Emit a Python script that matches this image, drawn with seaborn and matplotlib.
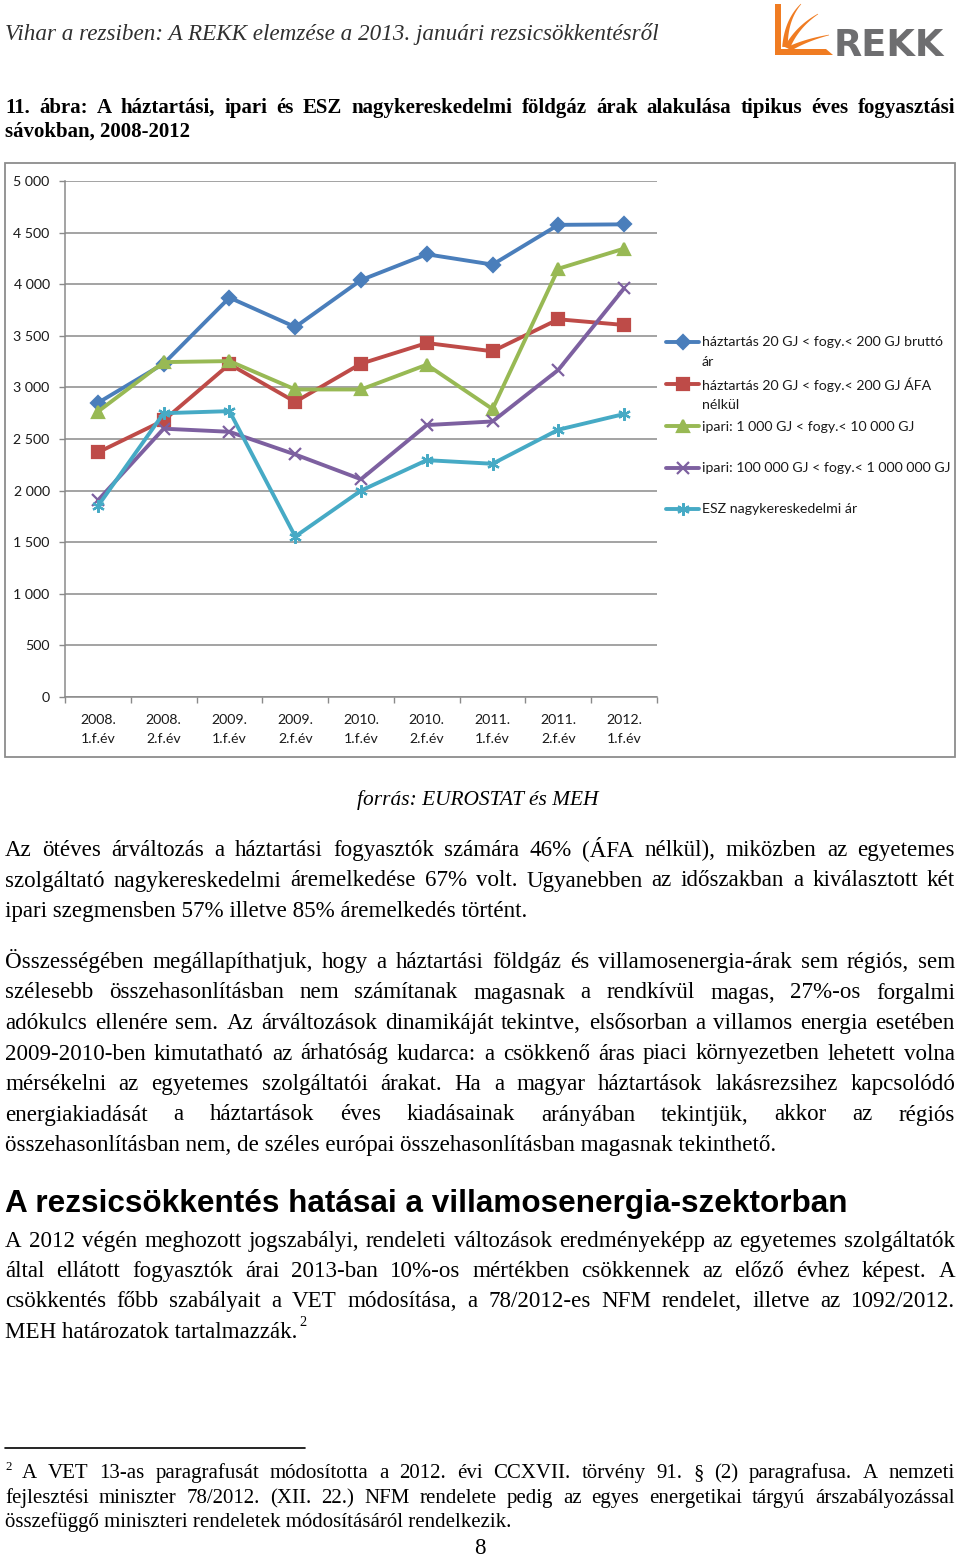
import numpy as np
import pandas as pd
import matplotlib
matplotlib.use("Agg")
import matplotlib.pyplot as plt
import seaborn as sns
from matplotlib.font_manager import FontProperties
from matplotlib.legend_handler import HandlerLine2D
from matplotlib.patches import Rectangle, Polygon
from matplotlib.lines import Line2D

# ---------------- data ----------------
categories = ["2008.\n1.f.év", "2008.\n2.f.év", "2009.\n1.f.év", "2009.\n2.f.év",
              "2010.\n1.f.év", "2010.\n2.f.év", "2011.\n1.f.év", "2011.\n2.f.év",
              "2012.\n1.f.év"]
haztartas_brutto = [2850, 3230, 3870, 3585, 4040, 4290, 4190, 4575, 4580]
haztartas_afa_nelkul = [2370, 2680, 3225, 2860, 3230, 3430, 3350, 3660, 3605]
ipari_kis = [2765, 3245, 3255, 2980, 2980, 3220, 2790, 4150, 4345]
ipari_nagy = [1905, 2600, 2570, 2350, 2110, 2635, 2670, 3170, 3960]
esz_nagyker = [1850, 2750, 2770, 1555, 2000, 2295, 2260, 2590, 2742]
series_labels = ["háztartás 20 GJ < fogy.< 200 GJ bruttó\nár",
                 "háztartás 20 GJ < fogy.< 200 GJ ÁFA\nnélkül",
                 "ipari: 1 000 GJ < fogy.< 10 000 GJ\n",
                 "ipari: 100 000 GJ < fogy.< 1 000 000 GJ\n",
                 "ESZ nagykereskedelmi ár\n"]
y_ticks = [0, 500, 1000, 1500, 2000, 2500, 3000, 3500, 4000, 4500, 5000]

# ---------------- page ----------------
W, H = 960, 1557
sns.set_theme(style="white")
plt.rcParams['font.family'] = ['Lato', 'DejaVu Sans']

fig = plt.figure(figsize=(W / 100, H / 100), dpi=100)
fig.patch.set_facecolor('white')
renderer = fig.canvas.get_renderer()


def fx(x):
    return x / W


def fy(y):
    return 1 - y / H


def tw(s, fp):
    w, h, d = renderer.get_text_width_height_descent(s, fp, ismath=False)
    return w


def fp_fit(s, target, family, style='normal', weight='normal'):
    base = 20.0
    fp = FontProperties(family=family, style=style, weight=weight, size=base)
    return FontProperties(family=family, style=style, weight=weight,
                          size=base * target / tw(s, fp))


def put(s, x, y, fp, color='black', ha='left'):
    fig.text(fx(x), fy(y), s, fontproperties=fp, va='baseline', ha=ha, color=color)


def justify(s, x0, x1, y, fp, color='black'):
    words = s.split(' ')
    widths = [tw(w, fp) for w in words]
    gap = (x1 - x0 - sum(widths)) / (len(words) - 1)
    x = x0
    for w, wd in zip(words, widths):
        put(w, x, y, fp, color)
        x += wd + gap


serif = ['Liberation Serif', 'DejaVu Serif']

# header
hdr = "Vihar a rezsiben: A REKK elemzése a 2013. januári rezsicsökkentésről"
put(hdr, 5, 40, fp_fit(hdr, 653, serif, style='italic'), color='#303030')

# logo
orange = '#F07C22'


def P(pts):
    return [(fx(x), fy(y)) for x, y in pts]


fig.add_artist(Polygon(P([(775, 4), (781, 4), (781, 49), (826, 49), (833, 55), (775, 55)]),
                       closed=True, transform=fig.transFigure, color=orange, lw=0))


def swoosh(p0, c, p2, w0):
    p0, c, p2 = map(np.array, (p0, c, p2))
    t = np.linspace(0, 1, 24)[:, None]
    pts = (1 - t) ** 2 * p0 + 2 * (1 - t) * t * c + t ** 2 * p2
    d = 2 * (1 - t) * (c - p0) + 2 * t * (p2 - c)
    n = np.column_stack([-d[:, 1], d[:, 0]])
    n /= np.linalg.norm(n, axis=1)[:, None]
    wid = (w0 * (1 - t[:, 0]) + 0.6)[:, None]
    poly = np.vstack([pts + n * wid / 2, (pts - n * wid / 2)[::-1]])
    fig.add_artist(Polygon(P(poly), closed=True, transform=fig.transFigure, color=orange, lw=0))


swoosh((785, 47), (786, 20), (801, 4), 5)
swoosh((787, 48), (797, 27), (818, 14), 5)
swoosh((789, 49), (806, 40), (829, 35), 4.5)
fp_logo = fp_fit("REKK", 110, ['DejaVu Sans'], weight='bold')
put("REKK", 834, 56, fp_logo, color='#6E6E70')

# figure title
fp_title = fp_fit("sávokban, 2008-2012", 185, serif, weight='bold')
justify("11. ábra: A háztartási, ipari és ESZ nagykereskedelmi földgáz árak alakulása tipikus éves fogyasztási",
        5, 955, 113, fp_title)
put("sávokban, 2008-2012", 5, 137, fp_title)

# ---------------- chart ----------------
fig.add_artist(Rectangle((fx(5), fy(757)), fx(955) - fx(5), (757 - 163) / H,
                         transform=fig.transFigure, fill=False, edgecolor='#8c8c8c', lw=1.3))

ax = fig.add_axes([fx(65), fy(697), fx(657) - fx(65), (697 - 181) / H])
xpos = np.arange(len(categories))

colors = ['#4A7EBB', '#BE4B48', '#98B954', '#7D60A0', '#46AAC5']
markers = ['D', 's', '^', 'x', (6, 2, 0)]
msizes = [7.5, 8, 8.5, 8, 9]
values = [haztartas_brutto, haztartas_afa_nelkul, ipari_kis, ipari_nagy, esz_nagyker]

for lab, vals, col, mk, ms in zip(series_labels, values, colors, markers, msizes):
    sns.lineplot(x=xpos, y=vals, ax=ax, color=col, marker=mk, markersize=ms,
                 markeredgecolor=col, markerfacecolor=col, markeredgewidth=1.6,
                 linewidth=2.8, label=lab)

grid_c = '#8a8a8a'
fp_leg = fp_fit("ipari: 100 000 GJ < fogy.< 1 000 000 GJ", 249, ['Lato', 'DejaVu Sans'])
fs_chart = fp_leg.get_size()

ax.set_ylim(0, 5000)
ax.set_xlim(-0.5, len(categories) - 0.5)
ax.set_yticks(y_ticks)
ax.set_yticklabels([f"{v:,}".replace(",", " ") for v in y_ticks])
ax.set_xticks(np.arange(-0.5, len(categories), 1.0))
ax.set_xticklabels([''] * len(np.arange(-0.5, len(categories), 1.0)))
ax.set_xticks(xpos, minor=True)
ax.set_xticklabels(categories, minor=True)
ax.tick_params(axis='y', which='major', length=4, width=1, color=grid_c, pad=7,
               labelsize=fs_chart, labelcolor='#1a1a1a', direction='out', left=True)
ax.tick_params(axis='x', which='major', length=4, width=1, color=grid_c,
               direction='out', bottom=True)
ax.tick_params(axis='x', which='minor', length=0, pad=12, labelsize=fs_chart,
               labelcolor='#1a1a1a')
for t in ax.get_xticklabels(minor=True):
    t.set_linespacing(1.75)
ax.set_xlabel('')
ax.set_ylabel('')
ax.yaxis.grid(True, color=grid_c, lw=1.1)
ax.xaxis.grid(False)
ax.set_axisbelow(True)
for s in ['top', 'right']:
    ax.spines[s].set_visible(False)
for s in ['left', 'bottom']:
    ax.spines[s].set_color(grid_c)
    ax.spines[s].set_linewidth(1.1)
ax.set_facecolor('white')
ax.patch.set_alpha(0)


class UpHandler(HandlerLine2D):
    def __init__(self, shift, **kw):
        super().__init__(**kw)
        self.shift = shift

    def create_artists(self, legend, orig_handle, xdescent, ydescent, width, height, fontsize, trans):
        arts = super().create_artists(legend, orig_handle, xdescent, ydescent, width,
                                      height, fontsize, trans)
        for a in arts:
            a.set_ydata(np.asarray(a.get_ydata()) + self.shift)
        return arts


if ax.get_legend() is not None:
    ax.get_legend().remove()
handles, labels = ax.get_legend_handles_labels()
leg = ax.legend(handles, labels, loc='upper left', bbox_to_anchor=(fx(666), fy(336)),
                bbox_transform=fig.transFigure, frameon=False, borderpad=0,
                borderaxespad=0, handlelength=33 * 0.72 / fs_chart,
                handletextpad=0.2, labelspacing=0.69, prop=fp_leg,
                handler_map={Line2D: UpHandler(shift=7.4)})
for t in leg.get_texts():
    t.set_color('#1a1a1a')
    t.set_linespacing(1.75)

# source
fp_src = fp_fit("forrás: EUROSTAT és MEH", 241, serif, style='italic')
put("forrás: EUROSTAT és MEH", 357, 805, fp_src)

# ---------------- body text ----------------
fp_body = fp_fit("összehasonlításban nem, de széles európai összehasonlításban magasnak tekinthető.",
                 770, serif)

par1 = ["Az ötéves árváltozás a háztartási fogyasztók számára 46% (ÁFA nélkül), miközben az egyetemes",
        "szolgáltató nagykereskedelmi áremelkedése 67% volt. Ugyanebben az időszakban a kiválasztott két",
        "ipari szegmensben 57% illetve 85% áremelkedés történt."]
par2 = ["Összességében megállapíthatjuk, hogy a háztartási földgáz és villamosenergia-árak sem régiós, sem",
        "szélesebb összehasonlításban nem számítanak magasnak a rendkívül magas, 27%-os forgalmi",
        "adókulcs ellenére sem. Az árváltozások dinamikáját tekintve, elsősorban a villamos energia esetében",
        "2009-2010-ben kimutatható az árhatóság kudarca: a csökkenő áras piaci környezetben lehetett volna",
        "mérsékelni az egyetemes szolgáltatói árakat. Ha a magyar háztartások lakásrezsihez kapcsolódó",
        "energiakiadását a háztartások éves kiadásainak arányában tekintjük, akkor az régiós",
        "összehasonlításban nem, de széles európai összehasonlításban magasnak tekinthető."]
par3 = ["A 2012 végén meghozott jogszabályi, rendeleti változások eredményeképp az egyetemes szolgáltatók",
        "által ellátott fogyasztók árai 2013-ban 10%-os mértékben csökkennek az előző évhez képest. A",
        "csökkentés főbb szabályait a VET módosítása, a 78/2012-es NFM rendelet, illetve az 1092/2012.",
        "MEH határozatok tartalmazzák."]


def paragraph(lines, y0, step, fp, x0=5, x1=955):
    for i, ln in enumerate(lines):
        y = y0 + i * step
        if i < len(lines) - 1:
            justify(ln, x0, x1, y, fp)
        else:
            put(ln, x0, y, fp)


paragraph(par1, 856, 30.5, fp_body)
paragraph(par2, 968, 30.5, fp_body)

heading = "A rezsicsökkentés hatásai a villamosenergia-szektorban"
put(heading, 5, 1212, fp_fit(heading, 839, ['Liberation Sans', 'DejaVu Sans'], weight='bold'))

paragraph(par3, 1247, 30.2, fp_body)
sup_fp = FontProperties(family=serif, size=fp_body.get_size() * 0.62)
put("2", 5 + tw(par3[-1], fp_body) + 2, 1326, sup_fp)

# footnote
fig.add_artist(Line2D([fx(5), fx(305)], [fy(1448), fy(1448)], transform=fig.transFigure,
                      color='black', lw=1.2))
fn = ["A VET 13-as paragrafusát módosította a 2012. évi CCXVII. törvény 91. § (2) paragrafusa. A nemzeti",
      "fejlesztési miniszter 78/2012. (XII. 22.) NFM rendelete pedig az egyes energetikai tárgyú árszabályozással",
      "összefüggő miniszteri rendeletek módosításáról rendelkezik."]
fp_fn = fp_fit(fn[2], 505, serif)
put("2", 5, 1470, FontProperties(family=serif, size=fp_fn.get_size() * 0.62))
justify(fn[0], 22, 955, 1478, fp_fn)
justify(fn[1], 5, 955, 1503, fp_fn)
put(fn[2], 5, 1527, fp_fn)

put("8", 480, 1554, FontProperties(family=serif, size=fp_body.get_size()), ha='center')

fig.savefig("out.png", dpi=100, facecolor='white')
